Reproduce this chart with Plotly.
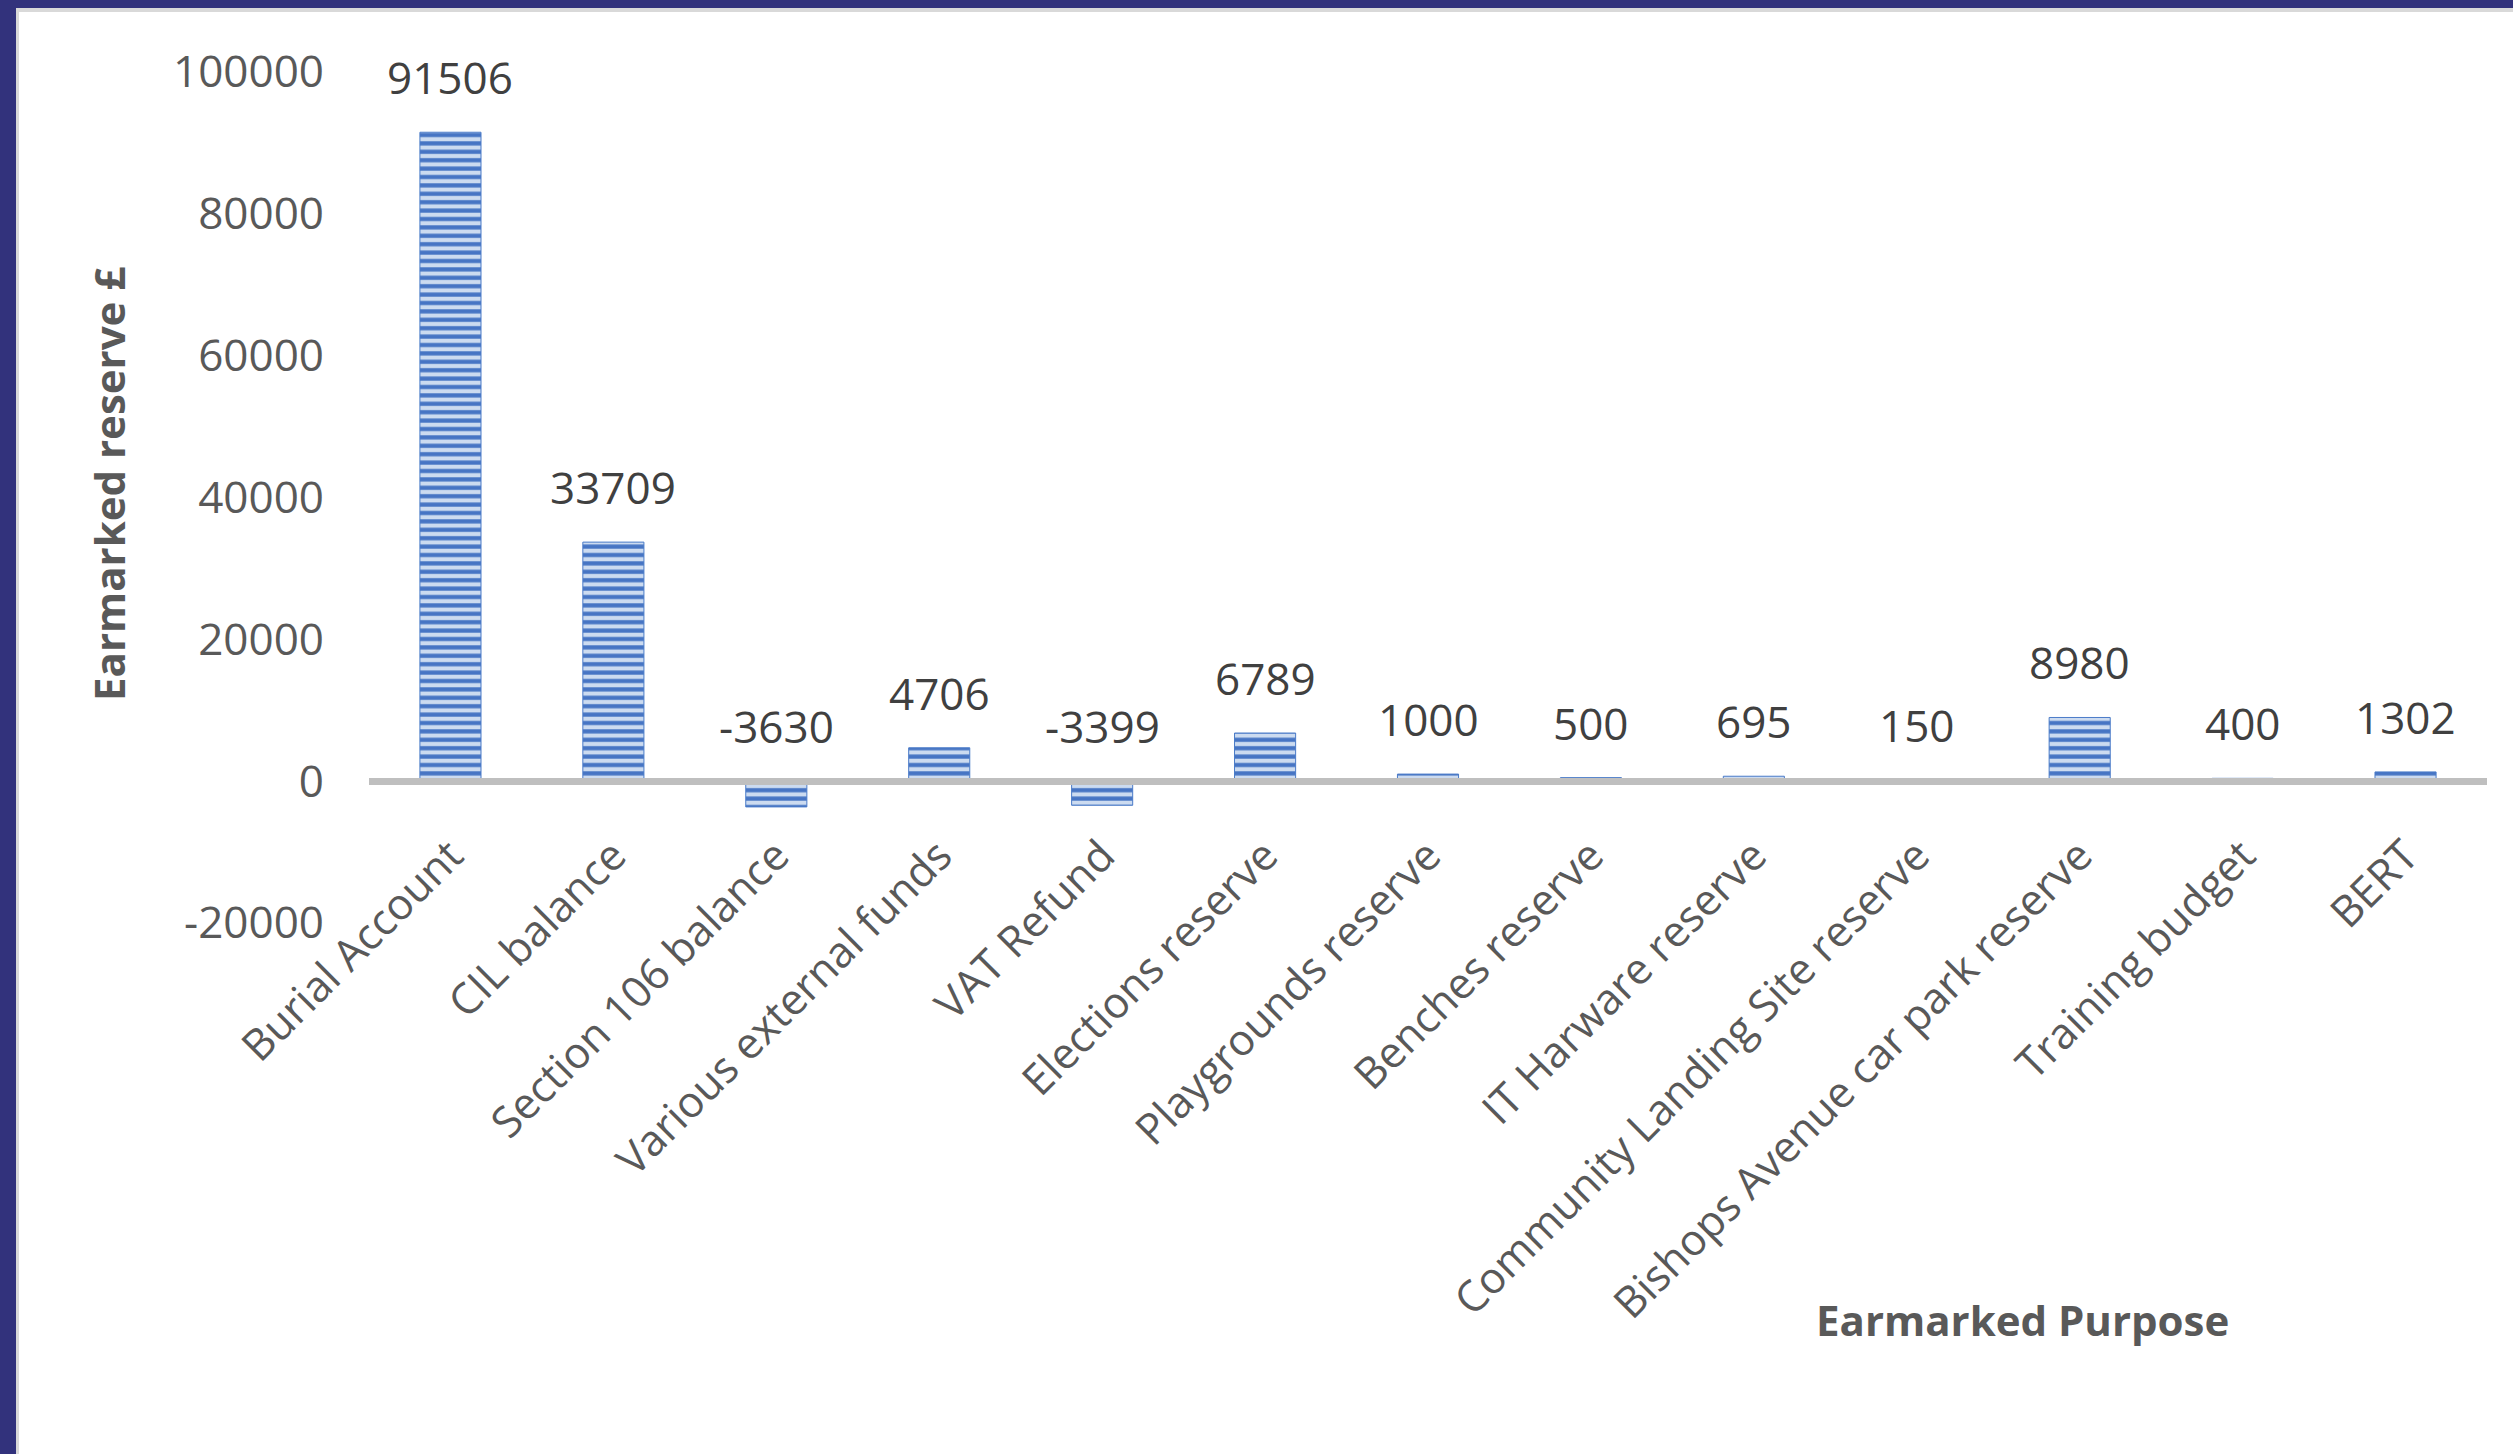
import plotly.graph_objects as go

categories = ["Burial Account", "CIL balance", "Section 106 balance", "Various external funds",
              "VAT Refund", "Elections reserve", "Playgrounds reserve", "Benches reserve",
              "IT Harware reserve", "Community Landing Site reserve",
              "Bishops Avenue car park reserve", "Training budget", "BERT"]
values = [91506, 33709, -3630, 4706, -3399, 6789, 1000, 500, 695, 150, 8980, 400, 1302]
y_ticks = [-20000, 0, 20000, 40000, 60000, 80000, 100000]
y_range = [-20000, 100000]

W, H = 2513, 1454
ML, MR, MT, MB = 369, 26, 72, 531
PW = W - ML - MR
PH = H - MT - MB

FONT = "Open Sans"
NAVY = "#32327C"

fig = go.Figure()
fig.add_trace(go.Bar(
    x=categories, y=values,
    marker=dict(color="#C9D8EF",
                line=dict(color="#4A7BC8", width=1),
                pattern=dict(shape="-", fgcolor="#4775C4", bgcolor="#CCDBF0",
                             size=8.4, solidity=0.5, fillmode="replace")),
    showlegend=False, hoverinfo="skip",
))

annotations = []
for c, v in zip(categories, values):
    annotations.append(dict(x=c, y=max(v, 0), xref="x", yref="y", text=str(v),
                            showarrow=False, yanchor="bottom", yshift=23,
                            font=dict(family=FONT, size=44, color="#404040")))

annotations.append(dict(text="<b>Earmarked reserve £</b>", xref="paper", yref="paper",
                        x=(108 - ML) / PW, y=1 - (484 - MT) / PH, textangle=-90,
                        showarrow=False, xanchor="center", yanchor="middle",
                        font=dict(family=FONT, size=42, color="#595959")))
annotations.append(dict(text="<b>Earmarked Purpose</b>", xref="paper", yref="paper",
                        x=(2023 - ML) / PW, y=-(1319 - (MT + PH)) / PH,
                        showarrow=False, xanchor="center", yanchor="middle",
                        font=dict(family=FONT, size=42, color="#595959")))

shapes = [
    dict(type="rect", xref="paper", yref="paper",
         x0=-ML / PW, x1=(16 - ML) / PW, y0=-MB / PH, y1=1 + MT / PH,
         fillcolor=NAVY, line=dict(width=0), layer="above"),
    dict(type="rect", xref="paper", yref="paper",
         x0=-ML / PW, x1=1 + MR / PW, y0=1 + (MT - 8) / PH, y1=1 + MT / PH,
         fillcolor=NAVY, line=dict(width=0), layer="above"),
    dict(type="rect", xref="paper", yref="paper",
         x0=(16 - ML) / PW, x1=(19 - ML) / PW, y0=-MB / PH, y1=1 + (MT - 8) / PH,
         fillcolor="#D9D9D9", line=dict(width=0), layer="above"),
    dict(type="rect", xref="paper", yref="paper",
         x0=(16 - ML) / PW, x1=1 + MR / PW, y0=1 + (MT - 12) / PH, y1=1 + (MT - 8) / PH,
         fillcolor="#D9D9D9", line=dict(width=0), layer="above"),
]

zero_pos = (0 - y_range[0]) / (y_range[1] - y_range[0])

fig.update_layout(
    width=W, height=H,
    margin=dict(l=ML, r=MR, t=MT, b=MB, pad=0),
    paper_bgcolor="white", plot_bgcolor="white",
    bargap=0.625,
    xaxis=dict(anchor="free", position=zero_pos, showline=True, linecolor="#BFBFBF",
               linewidth=7, showgrid=False, zeroline=False, tickangle=-45,
               ticks="", ticklabelstandoff=28,
               tickfont=dict(family=FONT, size=43, color="#595959"),
               range=[-0.5, len(categories) - 0.5]),
    yaxis=dict(range=y_range, tickvals=y_ticks, ticktext=[str(t) for t in y_ticks],
               showgrid=False, zeroline=False, showline=False, ticks="",
               ticklabelstandoff=44,
               tickfont=dict(family=FONT, size=44, color="#595959")),
    annotations=annotations,
    shapes=shapes,
)

fig.write_html("out.html", config={"displayModeBar": False},
               post_script="document.body.style.margin='0';document.body.style.overflow='hidden';")
